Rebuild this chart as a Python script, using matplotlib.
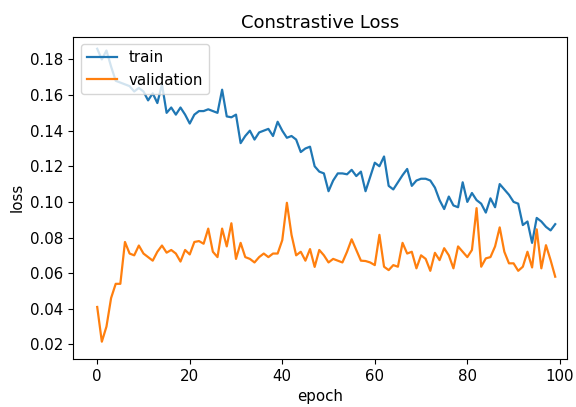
import matplotlib
matplotlib.use('Agg')
import matplotlib.pyplot as plt

# loss per epoch
train = [0.186, 0.180, 0.185, 0.176, 0.168, 0.167, 0.166, 0.165, 0.162, 0.164,
         0.162, 0.157, 0.161, 0.1555, 0.166, 0.150, 0.153, 0.149, 0.153, 0.149,
         0.144, 0.149, 0.151, 0.151, 0.152, 0.151, 0.150, 0.163, 0.148, 0.1475,
         0.149, 0.133, 0.137, 0.140, 0.135, 0.139, 0.140, 0.141, 0.137, 0.145,
         0.140, 0.136, 0.137, 0.135, 0.128, 0.130, 0.131, 0.120, 0.117, 0.116,
         0.106, 0.112, 0.116, 0.116, 0.1155, 0.118, 0.1145, 0.117, 0.106, 0.114,
         0.122, 0.120, 0.1255, 0.109, 0.107, 0.111, 0.115, 0.1185, 0.109, 0.112,
         0.113, 0.113, 0.112, 0.108, 0.101, 0.096, 0.103, 0.098, 0.097, 0.111,
         0.100, 0.105, 0.101, 0.099, 0.094, 0.102, 0.097, 0.110, 0.107, 0.104,
         0.100, 0.099, 0.087, 0.089, 0.077, 0.091, 0.089, 0.086, 0.084, 0.0875]

validation = [0.041, 0.0215, 0.030, 0.046, 0.054, 0.054, 0.0775, 0.071, 0.070, 0.0755,
              0.071, 0.069, 0.067, 0.072, 0.0755, 0.0715, 0.073, 0.071, 0.0665, 0.073,
              0.0705, 0.0775, 0.078, 0.0765, 0.085, 0.072, 0.069, 0.085, 0.075, 0.088,
              0.068, 0.077, 0.069, 0.068, 0.066, 0.069, 0.071, 0.069, 0.071, 0.071,
              0.0785, 0.0995, 0.0815, 0.070, 0.072, 0.067, 0.0735, 0.0635, 0.073, 0.070,
              0.066, 0.068, 0.067, 0.066, 0.072, 0.079, 0.073, 0.067, 0.0668, 0.066,
              0.0645, 0.0815, 0.0636, 0.0617, 0.0645, 0.0636, 0.077, 0.071, 0.072, 0.0627,
              0.070, 0.068, 0.0613, 0.0714, 0.0673, 0.074, 0.070, 0.0627, 0.075, 0.072,
              0.069, 0.073, 0.0965, 0.0636, 0.0683, 0.069, 0.075, 0.0857, 0.072, 0.0655,
              0.0655, 0.0613, 0.0636, 0.072, 0.0632, 0.0846, 0.0627, 0.0757, 0.0673, 0.058]

epochs = list(range(len(train)))

plt.rcParams['font.size'] = 10.8

fig = plt.figure(figsize=(5.76, 4.07), dpi=100)
fig.patch.set_facecolor('white')
ax = fig.add_axes([0.127, 0.118, 0.857, 0.792])

ax.plot(epochs, train, lw=1.6, label='train')
ax.plot(epochs, validation, lw=1.6, label='validation')

ax.set_title('Constrastive Loss', fontsize=13)
ax.set_xlabel('epoch')
ax.set_ylabel('loss')
ax.set_xlim(-5.2, 101.5)
ax.set_ylim(0.0118, 0.1928)
ax.set_xticks([0, 20, 40, 60, 80, 100])
ax.set_yticks([0.02, 0.04, 0.06, 0.08, 0.10, 0.12, 0.14, 0.16, 0.18])
ax.legend(loc='upper left')

fig.savefig('out.png', dpi=100)
plt.close(fig)
